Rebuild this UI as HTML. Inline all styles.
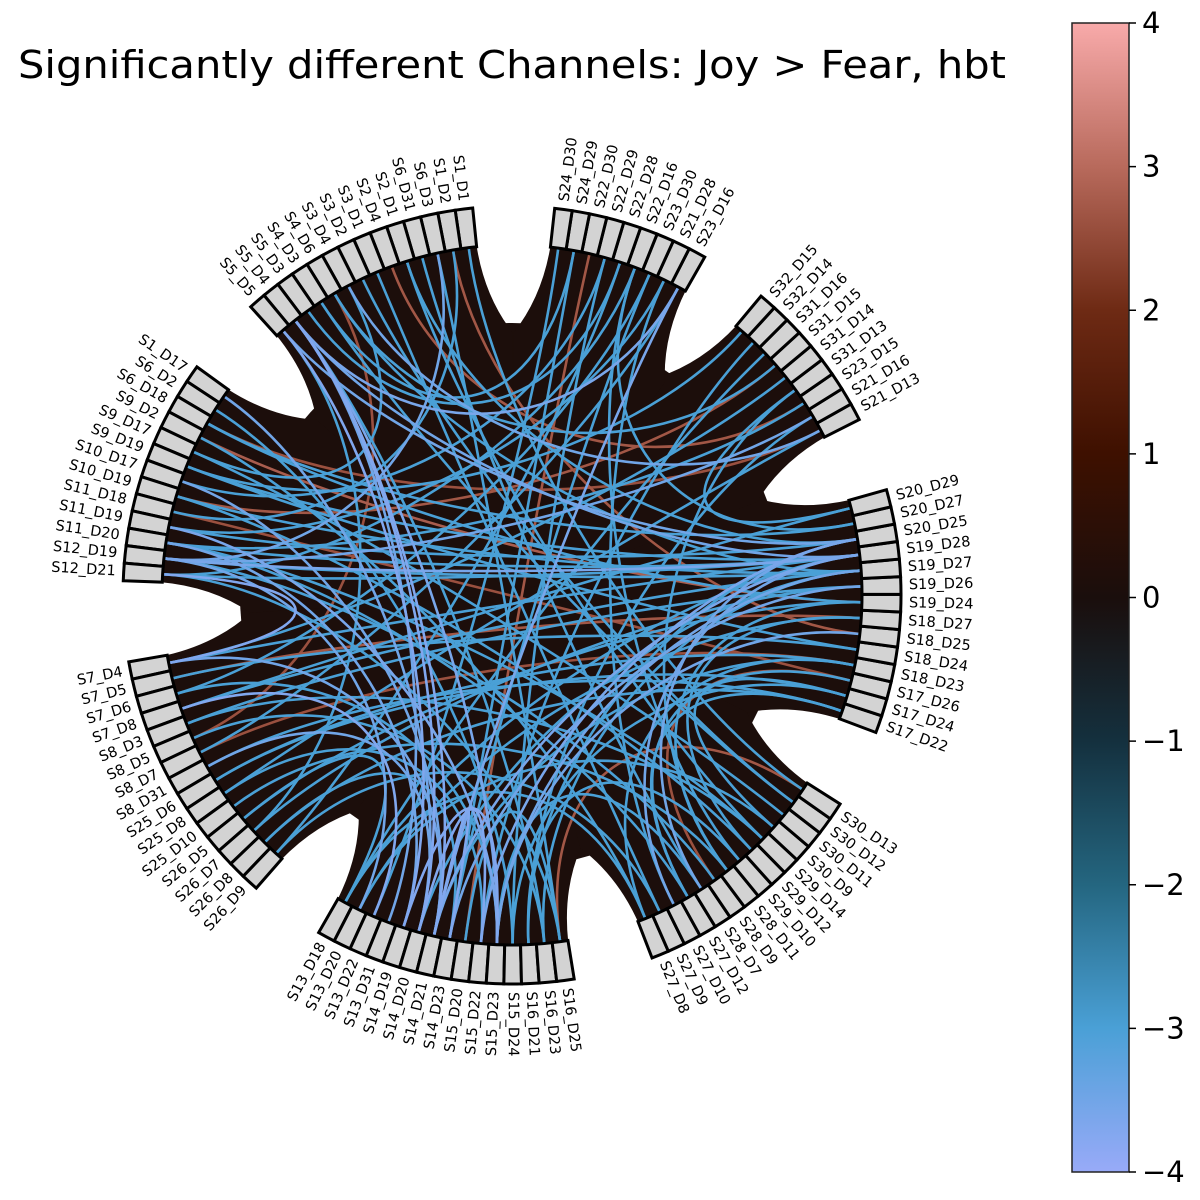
<!DOCTYPE html>
<html><head><meta charset="utf-8"><style>
html,body{margin:0;padding:0;background:#fff;}
svg{display:block;font-family:"DejaVu Sans","Liberation Sans",sans-serif;}
</style></head><body>
<svg id="chart" width="1200" height="1200" viewBox="0 0 1200 1200" xmlns="http://www.w3.org/2000/svg">
<defs>
<linearGradient id="cbgrad" x1="0" y1="1" x2="0" y2="0">
<stop offset="0" stop-color="#98aaf8"/>
<stop offset="0.125" stop-color="#4aa0d6"/>
<stop offset="0.25" stop-color="#246680"/>
<stop offset="0.375" stop-color="#14303e"/>
<stop offset="0.5" stop-color="#1a0e0c"/>
<stop offset="0.625" stop-color="#3e1000"/>
<stop offset="0.75" stop-color="#6e2a14"/>
<stop offset="0.875" stop-color="#b86a5c"/>
<stop offset="1" stop-color="#f8aaaa"/>
</linearGradient>
</defs>
<text x="18" y="78" font-size="38" fill="#000" textLength="988" lengthAdjust="spacingAndGlyphs">Significantly different Channels: Joy &gt; Fear, hbt</text>
<g id="bg"></g>
<g id="chords"></g>
<g id="nodes"></g>
<g id="labels"></g>
<g id="colorbar">
<rect x="1072" y="23" width="57" height="1149" fill="url(#cbgrad)" stroke="#222" stroke-width="1.5"/>
</g>
</svg>
<script>
// ---- data ----
const groupD = ["S17_D22","S17_D24","S17_D26","S18_D23","S18_D24","S18_D25","S18_D27","S19_D24","S19_D26","S19_D27","S19_D28","S20_D25","S20_D27","S20_D29"];
const groupC = ["S21_D13","S21_D16","S23_D15","S31_D13","S31_D14","S31_D15","S31_D16","S32_D14","S32_D15"];
const groupB = ["S23_D16","S21_D28","S23_D30","S22_D16","S22_D28","S22_D29","S22_D30","S24_D29","S24_D30"];
const groupA = ["S1_D1","S1_D2","S6_D3","S6_D31","S2_D1","S2_D4","S3_D1","S3_D2","S3_D4","S4_D6","S4_D3","S5_D3","S5_D4","S5_D5"];
const groupH = ["S1_D17","S6_D2","S6_D18","S9_D2","S9_D17","S9_D19","S10_D17","S10_D19","S11_D18","S11_D19","S11_D20","S12_D19","S12_D21"];
const groupG = ["S7_D4","S7_D5","S7_D6","S7_D8","S8_D3","S8_D5","S8_D7","S8_D31","S25_D6","S25_D8","S25_D10","S26_D5","S26_D7","S26_D8","S26_D9"];
const groupF = ["S13_D18","S13_D20","S13_D22","S13_D31","S14_D19","S14_D20","S14_D21","S14_D23","S15_D20","S15_D22","S15_D23","S15_D24","S16_D21","S16_D23","S16_D25"];
const groupE = ["S27_D8","S27_D9","S27_D10","S27_D12","S28_D7","S28_D9","S28_D11","S29_D10","S29_D12","S29_D14","S30_D9","S30_D11","S30_D12","S30_D13"];
const groupCenters = [-2.5, 38.5, 72, 114, 161, -150.6, -100.3, -50.7];
const conA = ["S19_D28","S19_D28","S19_D28","S19_D28","S19_D28","S19_D28","S19_D28","S19_D28","S19_D27","S19_D27","S19_D27","S19_D27","S19_D27","S19_D27","S20_D25","S20_D25","S20_D25","S20_D25","S20_D25","S20_D27","S20_D27","S20_D29","S19_D26","S19_D26","S19_D24","S19_D24","S18_D27","S18_D25","S18_D24","S18_D23","S17_D26","S17_D26","S17_D24","S17_D22","S17_D22","S18_D23",
"S5_D4","S5_D4","S5_D4","S5_D4","S5_D4","S5_D5","S5_D5","S5_D4","S5_D3","S4_D3","S4_D6","S3_D4","S3_D2","S3_D1","S2_D4","S2_D1","S6_D31","S6_D3","S1_D2","S1_D1","S1_D2","S6_D3","S3_D4","S4_D6",
"S24_D30","S24_D29","S22_D30","S22_D29","S22_D28","S22_D16","S23_D30","S21_D28","S23_D16","S23_D16","S22_D16","S21_D28",
"S32_D15","S32_D14","S31_D16","S31_D15","S31_D14","S31_D13","S23_D15","S21_D16","S21_D13","S21_D13","S21_D16",
"S1_D17","S6_D2","S6_D18","S9_D2","S9_D17","S9_D19","S10_D17","S10_D19","S11_D18","S11_D19","S11_D20","S12_D19","S12_D21","S12_D21","S12_D19","S11_D20",
"S7_D4","S7_D5","S7_D6","S7_D8","S8_D3","S8_D5","S8_D7","S8_D31","S25_D6","S25_D8","S25_D10","S26_D5","S26_D7","S26_D8","S26_D9","S7_D8",
"S13_D18","S13_D20","S14_D19","S14_D20","S14_D21","S15_D20","S15_D23","S16_D21","S16_D25","S16_D23","S27_D8","S27_D10","S27_D12","S28_D7","S28_D11","S29_D12","S30_D9","S29_D14","S30_D12","S14_D23","S15_D24"];
const conB = ["S12_D19","S11_D20","S12_D21","S5_D4","S7_D4","S14_D21","S13_D18","S9_D19","S12_D19","S10_D19","S15_D23","S14_D20","S4_D6","S7_D8","S5_D5","S11_D19","S16_D21","S15_D22","S2_D1","S6_D18","S22_D16","S31_D13","S8_D3","S14_D23","S9_D2","S26_D5","S13_D20","S15_D23","S7_D5","S14_D21","S27_D12","S28_D9","S15_D24","S26_D8","S8_D31","S25_D6",
"S14_D21","S14_D20","S15_D23","S13_D31","S16_D23","S14_D19","S26_D7","S23_D16","S22_D28","S24_D29","S31_D15","S21_D13","S30_D12","S27_D9","S23_D15","S29_D14","S28_D7","S16_D25","S18_D25","S30_D13","S11_D18","S12_D19","S9_D17","S8_D5",
"S13_D22","S14_D23","S15_D20","S10_D17","S26_D9","S12_D21","S7_D6","S11_D19","S14_D21","S8_D7","S29_D10","S27_D10",
"S9_D19","S15_D22","S13_D18","S10_D19","S7_D4","S28_D11","S11_D20","S12_D19","S6_D18","S25_D8","S16_D21",
"S14_D20","S15_D24","S19_D24","S27_D8","S30_D11","S18_D24","S14_D21","S29_D12","S17_D26","S15_D23","S14_D19","S28_D9","S16_D25","S7_D4","S13_D20","S27_D12",
"S14_D21","S18_D27","S15_D23","S20_D29","S29_D14","S16_D23","S18_D23","S14_D20","S17_D24","S15_D22","S28_D11","S13_D18","S19_D26","S14_D23","S27_D9","S13_D22",
"S27_D8","S30_D9","S15_D23","S15_D22","S14_D23","S16_D25","S28_D7","S29_D10","S30_D13","S19_D27","S18_D23","S19_D28","S17_D22","S20_D25","S19_D24","S18_D27","S17_D24","S11_D20","S4_D3","S23_D30","S22_D29"];
const conVal = [-3.6,-3,-3,-3.5,-3,-3.6,-3,-3,-3,-3,-3.5,-3,-3,-3,-3.5,-3,-3,-3.6,-3,-3,-3,-3,-3,-3.5,2.8,-3,-3,-3.5,-3,-3,-3,2.6,-3,-3,-3,-3,
-3.7,-3.7,-3.6,-3.5,-3,-3.7,-3,-3.6,-3,-3,-3,-3.5,-3,-3,2.7,-3,-3,-3,2.7,-3,-3,-3.5,-3,2.6,
-3,-3,2.7,-3,-3,-3,-3,-3,-3.6,-3,-3,-3,
-3,-3,-3,2.7,-3,-3,-3,-3.5,2.6,-3,-3,
-3.5,-3,-3,-3,-3,-3,-3.5,-3,2.6,-3.6,-3.5,-3,-3,-3.7,-3.5,-3,
-3.5,2.7,-3,-3,-3,-3,2.6,-3.5,-3,-3,-3,-3,-3,-3,-3,-3.7,
-3,-3,-3.7,-3.7,-3.7,-3,-3,-3,2.7,-3,-3,-3.5,-3,-3.5,-3,-3,-3,-3,-3,-3,-3];
const cbTicks = [4,3,2,1,0,-1,-2,-3,-4];
const cbTickLabels = ["4","3","2","1","0","\u22121","\u22122","\u22123","\u22124"];

// ---- layout ----
const NS = "http://www.w3.org/2000/svg";
const CX = 512, CY = 595, RIN = 350, ROUT = 389, RC = 175, STEP = 2.6;
const groups = [groupD, groupC, groupB, groupA, groupH, groupG, groupF, groupE];
const nodeAngle = {};
groups.forEach((g, gi) => {
  g.forEach((n, k) => { nodeAngle[n] = groupCenters[gi] + (k - (g.length - 1) / 2) * STEP; });
});
function pt(r, deg) { const a = deg * Math.PI / 180; return [CX + r * Math.cos(a), CY - r * Math.sin(a)]; }
function mk(tag, attrs, parent) { const e = document.createElementNS(NS, tag); for (const k in attrs) e.setAttribute(k, attrs[k]); parent.appendChild(e); return e; }

const cmStops = [[-4,[152,170,248]],[-3,[74,160,214]],[-2,[36,102,128]],[-1,[20,48,62]],[0,[26,14,12]],[1,[62,16,0]],[2,[110,42,20]],[3,[184,106,92]],[4,[248,170,170]]];
function cmap(v) {
  v = Math.max(-4, Math.min(4, v));
  for (let i = 0; i < cmStops.length - 1; i++) {
    const [a, ca] = cmStops[i], [b, cb] = cmStops[i + 1];
    if (v <= b) { const t = (v - a) / (b - a); return `rgb(${ca.map((c, j) => Math.round(c + t * (cb[j] - c))).join(",")})`; }
  }
  return "rgb(248,170,170)";
}

// background
const bg = document.getElementById("bg");
const bgc = mk("circle", {cx: CX, cy: CY, r: 272, fill: "#1c0e0b"}, bg);


groups.forEach((g, gi) => {
  const a0 = groupCenters[gi] - g.length / 2 * STEP, a1 = groupCenters[gi] + g.length / 2 * STEP;
  const p1 = pt(262, a0 - 6), c1 = pt(300, a0 - 0.5), p2 = pt(RIN + 2, a0);
  const p3 = pt(RIN + 2, a1), c2 = pt(300, a1 + 0.5), p4 = pt(262, a1 + 6);
  const d = `M${CX},${CY} L${p1} Q${c1} ${p2} A${RIN + 2},${RIN + 2} 0 0 0 ${p3} Q${c2} ${p4} Z`;
  const w = mk("path", {d: d, fill: "#1c0e0b"}, bg);
  
  
});

// chords
const chords = document.getElementById("chords");
const order = conVal.map((v, i) => i).sort((i, j) => Math.abs(conVal[i]) - Math.abs(conVal[j]));
order.forEach(i => {
  const a = nodeAngle[conA[i]], b = nodeAngle[conB[i]];
  if (a === undefined || b === undefined) return;
  const p0 = pt(RIN, a), p1 = pt(RC, a), p2 = pt(RC, b), p3 = pt(RIN, b);
  const c = mk("path", {d: `M${p0} C${p1} ${p2} ${p3}`, fill: "none", stroke: cmap(conVal[i]), "stroke-width": 2.6}, chords);
  
  
});

// nodes and labels
const nodes = document.getElementById("nodes"), labels = document.getElementById("labels");
groups.forEach(g => {
  g.forEach(n => {
    const a = nodeAngle[n], h = STEP / 2;
    const q1 = pt(RIN, a - h), q2 = pt(ROUT, a - h), q3 = pt(ROUT, a + h), q4 = pt(RIN, a + h);
    const box = mk("path", {d: `M${q1} L${q2} A${ROUT},${ROUT} 0 0 0 ${q3} L${q4} A${RIN},${RIN} 0 0 1 ${q1} Z`, fill: "#d3d3d3", stroke: "#000", "stroke-width": 3, "stroke-linejoin": "miter"}, nodes);
    
    
    const lp = pt(ROUT + 8, a);
    const flip = Math.cos(a * Math.PI / 180) < 0;
    const rot = flip ? 180 - a : -a;
    const t = mk("text", {x: lp[0], y: lp[1], "font-size": 14.5, fill: "#000", "dominant-baseline": "central", "text-anchor": flip ? "end" : "start", transform: `rotate(${rot} ${lp[0]} ${lp[1]})`}, labels);
    t.textContent = n;
    
    
  });
});

// colorbar ticks
const cb = document.getElementById("colorbar");
function cbY(v) { return 23 + (4 - v) / 8 * 1149; }
cbTicks.forEach((v, i) => {
  const y = cbY(v);
  const tk = mk("line", {x1: 1129, x2: 1136, y1: y, y2: y, stroke: "#000", "stroke-width": 1.5}, cb);
  
  
  const lb = mk("text", {x: 1142, y: y, "font-size": 29, fill: "#000", "dominant-baseline": "central"}, cb);
  lb.textContent = cbTickLabels[i];
  
  
});
</script>
</body></html>
